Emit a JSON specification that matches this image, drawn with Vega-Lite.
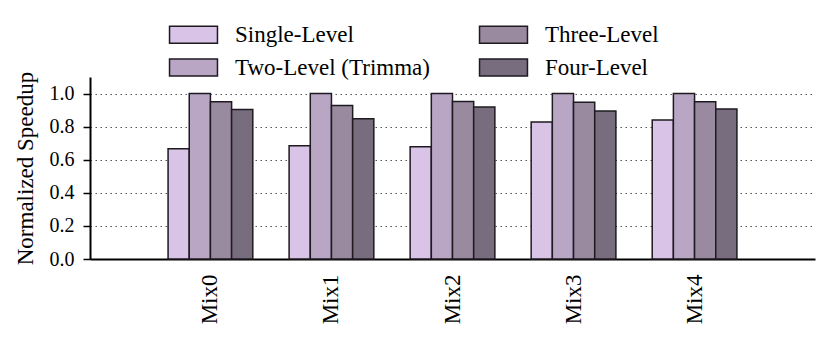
{
  "$schema": "https://vega.github.io/schema/vega-lite/v6.json",
  "autosize": {"type": "none"},
  "padding": {"left": 90, "top": 77, "right": 16, "bottom": 84},
  "width": 725,
  "height": 182,
  "background": "white",
  "config": {
    "font": "Liberation Serif",
    "view": {"stroke": null},
    "axis": {"labelFont": "Liberation Serif", "titleFont": "Liberation Serif"},
    "legend": {"labelFont": "Liberation Serif", "titleFont": "Liberation Serif"}
  },
  "data": {
    "values": [
      {"mix": "Mix0", "config": "Single-Level", "value": 0.667},
      {"mix": "Mix0", "config": "Two-Level (Trimma)", "value": 1.0},
      {"mix": "Mix0", "config": "Three-Level", "value": 0.95},
      {"mix": "Mix0", "config": "Four-Level", "value": 0.903},
      {"mix": "Mix1", "config": "Single-Level", "value": 0.685},
      {"mix": "Mix1", "config": "Two-Level (Trimma)", "value": 1.0},
      {"mix": "Mix1", "config": "Three-Level", "value": 0.927},
      {"mix": "Mix1", "config": "Four-Level", "value": 0.848},
      {"mix": "Mix2", "config": "Single-Level", "value": 0.679},
      {"mix": "Mix2", "config": "Two-Level (Trimma)", "value": 1.0},
      {"mix": "Mix2", "config": "Three-Level", "value": 0.952},
      {"mix": "Mix2", "config": "Four-Level", "value": 0.919},
      {"mix": "Mix3", "config": "Single-Level", "value": 0.828},
      {"mix": "Mix3", "config": "Two-Level (Trimma)", "value": 1.0},
      {"mix": "Mix3", "config": "Three-Level", "value": 0.947},
      {"mix": "Mix3", "config": "Four-Level", "value": 0.895},
      {"mix": "Mix4", "config": "Single-Level", "value": 0.84},
      {"mix": "Mix4", "config": "Two-Level (Trimma)", "value": 1.0},
      {"mix": "Mix4", "config": "Three-Level", "value": 0.95},
      {"mix": "Mix4", "config": "Four-Level", "value": 0.907}
    ]
  },
  "mark": {"type": "bar", "stroke": "#1e1a20", "strokeWidth": 1.5},
  "encoding": {
    "x": {
      "field": "mix",
      "type": "nominal",
      "scale": {"paddingInner": 0.3, "paddingOuter": 0.645},
      "axis": {
        "title": null,
        "labelAngle": -90,
        "labelFontSize": 23,
        "labelColor": "black",
        "labelPadding": 15,
        "ticks": false,
        "domainColor": "black",
        "domainWidth": 2
      }
    },
    "xOffset": {
      "field": "config",
      "type": "nominal",
      "scale": {"domain": ["Single-Level", "Two-Level (Trimma)", "Three-Level", "Four-Level"], "paddingInner": 0, "paddingOuter": 0}
    },
    "y": {
      "field": "value",
      "type": "quantitative",
      "scale": {"domain": [0, 1.1], "nice": false},
      "axis": {
        "title": "Normalized Speedup",
        "titleFontSize": 23,
        "titleFontWeight": "normal",
        "titleColor": "black",
        "titlePadding": 12,
        "values": [0, 0.2, 0.4, 0.6, 0.8, 1.0],
        "format": ".1f",
        "labelFontSize": 20,
        "labelColor": "black",
        "labelPadding": 9,
        "tickSize": 7,
        "tickColor": "black",
        "tickWidth": 1.5,
        "domainColor": "black",
        "domainWidth": 2,
        "grid": true,
        "gridColor": "#555555",
        "gridDash": [1.5, 3.5],
        "gridWidth": 1.2
      }
    },
    "color": {
      "field": "config",
      "type": "nominal",
      "scale": {
        "domain": ["Single-Level", "Two-Level (Trimma)", "Three-Level", "Four-Level"],
        "range": ["#d9c3e6", "#b9a6c4", "#9a8aa0", "#786d7e"]
      },
      "legend": {
        "title": null,
        "orient": "none",
        "legendX": 92,
        "legendY": -54,
        "columns": 2,
        "symbolType": "M-2.82,-1H2.82V1H-2.82Z",
        "symbolSize": 289,
        "symbolStrokeColor": "#1e1a20",
        "symbolStrokeWidth": 1.5,
        "symbolOpacity": 1,
        "labelFontSize": 23,
        "labelColor": "black",
        "labelOffset": 30,
        "labelLimit": 400,
        "rowPadding": 9,
        "columnPadding": 46,
        "padding": 0
      }
    }
  }
}
